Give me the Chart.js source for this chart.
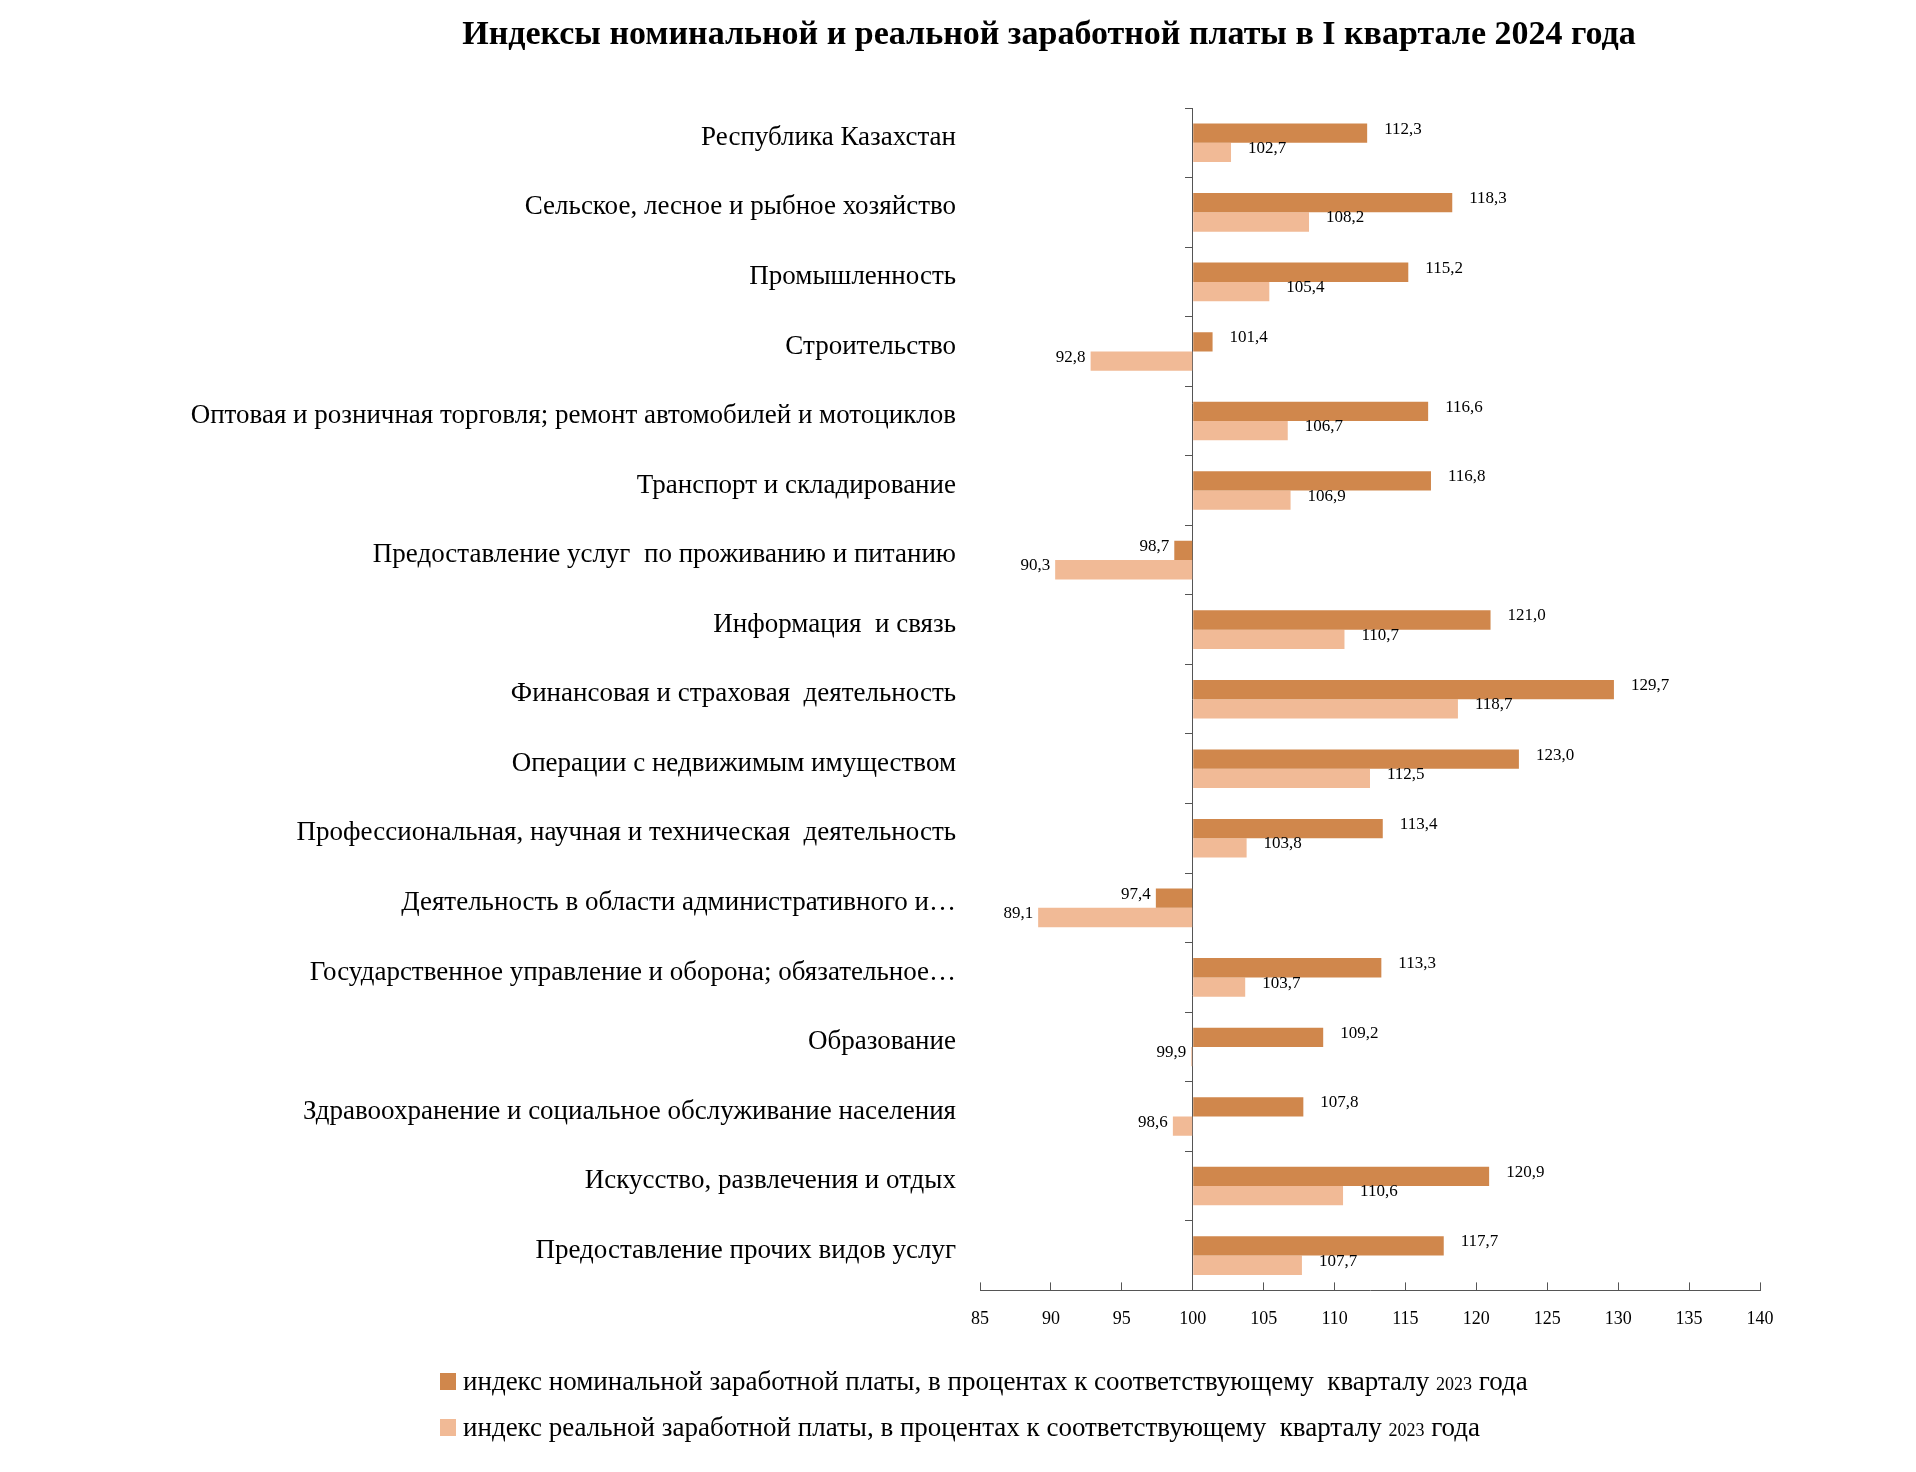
<!DOCTYPE html>
<html lang="ru">
<head>
<meta charset="utf-8">
<title>Индексы заработной платы</title>
<script src="https://cdn.jsdelivr.net/npm/chart.js@4.4.1/dist/chart.umd.min.js"></script>
<style>
    html, body { margin: 0; padding: 0; background: #fff; }
    #wrap { position: relative; width: 1916px; height: 1472px; }
    #title { position: absolute; left: 1049px; top: 13px; transform: translateX(-50%); white-space: nowrap;
        font-family: "Liberation Serif", "Times New Roman", serif; font-weight: bold; font-size: 34px; line-height: 40px; color: #000; }
    #legend { position: absolute; left: 440px; top: 1358px; font-family: "Liberation Serif", "Times New Roman", serif; font-size: 27px; color: #000; }
    #legend .row { display: flex; align-items: center; height: 46px; white-space: pre; }
    #legend .box { width: 16px; height: 17px; margin-right: 7px; }
    #legend .yr { font-size: 18px; }
</style>
</head>
<body>
<div id="wrap">
    <canvas id="wage-chart"></canvas>
    <div id="title">Индексы номинальной и реальной заработной платы в I квартале 2024 года</div>
    <div id="legend"></div>
</div>
<script>
const categories = [
    'Республика Казахстан',
    'Сельское, лесное и рыбное хозяйство',
    'Промышленность',
    'Строительство',
    'Оптовая и розничная торговля; ремонт автомобилей и мотоциклов',
    'Транспорт и складирование',
    'Предоставление услуг  по проживанию и питанию',
    'Информация  и связь',
    'Финансовая и страховая  деятельность',
    'Операции с недвижимым имуществом',
    'Профессиональная, научная и техническая  деятельность',
    'Деятельность в области административного и…',
    'Государственное управление и оборона; обязательное…',
    'Образование',
    'Здравоохранение и социальное обслуживание населения',
    'Искусство, развлечения и отдых',
    'Предоставление прочих видов услуг'
];
const nominalIndex = [112.3, 118.3, 115.2, 101.4, 116.6, 116.8, 98.7, 121.0, 129.7, 123.0, 113.4, 97.4, 113.3, 109.2, 107.8, 120.9, 117.7];
const realIndex = [102.7, 108.2, 105.4, 92.8, 106.7, 106.9, 90.3, 110.7, 118.7, 112.5, 103.8, 89.1, 103.7, 99.9, 98.6, 110.6, 107.7];
const seriesNames = [
    'индекс номинальной заработной платы, в процентах к соответствующему  кварталу ',
    'индекс реальной заработной платы, в процентах к соответствующему  кварталу '
];
const prevYear = '2023';
const baseValue = 100;

const colNominal = 'rgb(208, 135, 76)';
const colReal = 'rgb(241, 186, 150)';
const axisColor = '#555';
const serif = '"Liberation Serif", "Times New Roman", serif';

// подписи значений у концов столбцов
const valueLabels = {
    id: 'valueLabels',
    afterDatasetsDraw(chart) {
        const ctx = chart.ctx;
        ctx.save();
        ctx.font = '17px ' + serif;
        ctx.fillStyle = '#000';
        ctx.textBaseline = 'middle';
        chart.data.datasets.forEach((ds, i) => {
            chart.getDatasetMeta(i).data.forEach((bar, j) => {
                const v = ds.data[j];
                const txt = v.toFixed(1).replace('.', ',');
                if (v >= baseValue) {
                    ctx.textAlign = 'left';
                    ctx.fillText(txt, bar.x + 17, bar.y - 4);
                } else {
                    ctx.textAlign = 'right';
                    ctx.fillText(txt, bar.x - 5, bar.y - 4);
                }
            });
        });
        ctx.restore();
    }
};

const chart = new Chart(document.getElementById('wage-chart').getContext('2d'), {
    type: 'bar',
    data: {
        labels: categories,
        datasets: [
            { label: seriesNames[0], data: nominalIndex, base: baseValue, backgroundColor: colNominal },
            { label: seriesNames[1], data: realIndex, base: baseValue, backgroundColor: colReal }
        ]
    },
    options: {
        indexAxis: 'y',
        responsive: true,
        maintainAspectRatio: false,
        animation: false,
        layout: { padding: { left: 120, right: 156, top: 108, bottom: 116 } },
        datasets: { bar: { categoryPercentage: 0.555, barPercentage: 1 } },
        scales: {
            x: {
                min: 85,
                max: 140,
                ticks: { stepSize: 5, padding: 26, color: '#000', font: { family: serif, size: 18 } },
                grid: { drawOnChartArea: false, tickLength: -8, color: axisColor },
                border: { display: true, color: axisColor }
            },
            y: {
                grid: { display: false, drawTicks: false },
                border: { display: false },
                ticks: { padding: 24, labelOffset: -5, color: '#000', font: { family: serif, size: 27 } },
                afterFit: s => { s.width = 860; }
            },
            y2: {
                type: 'category',
                labels: categories,
                axis: 'y',
                position: { x: baseValue },
                offset: true,
                ticks: { display: false },
                grid: { offset: true, drawOnChartArea: false, tickLength: 7, color: axisColor },
                border: { display: true, color: axisColor }
            }
        },
        plugins: {
            legend: { display: false },
            tooltip: { enabled: false }
        }
    },
    plugins: [valueLabels]
});

// легенда
const legendEl = document.getElementById('legend');
chart.data.datasets.forEach(ds => {
    const row = document.createElement('div');
    row.className = 'row';
    row.innerHTML = '<span class="box" style="background:' + ds.backgroundColor + '"></span>' +
        '<span>' + ds.label + '<span class="yr">' + prevYear + '</span> года</span>';
    legendEl.appendChild(row);
});
</script>
</body>
</html>
